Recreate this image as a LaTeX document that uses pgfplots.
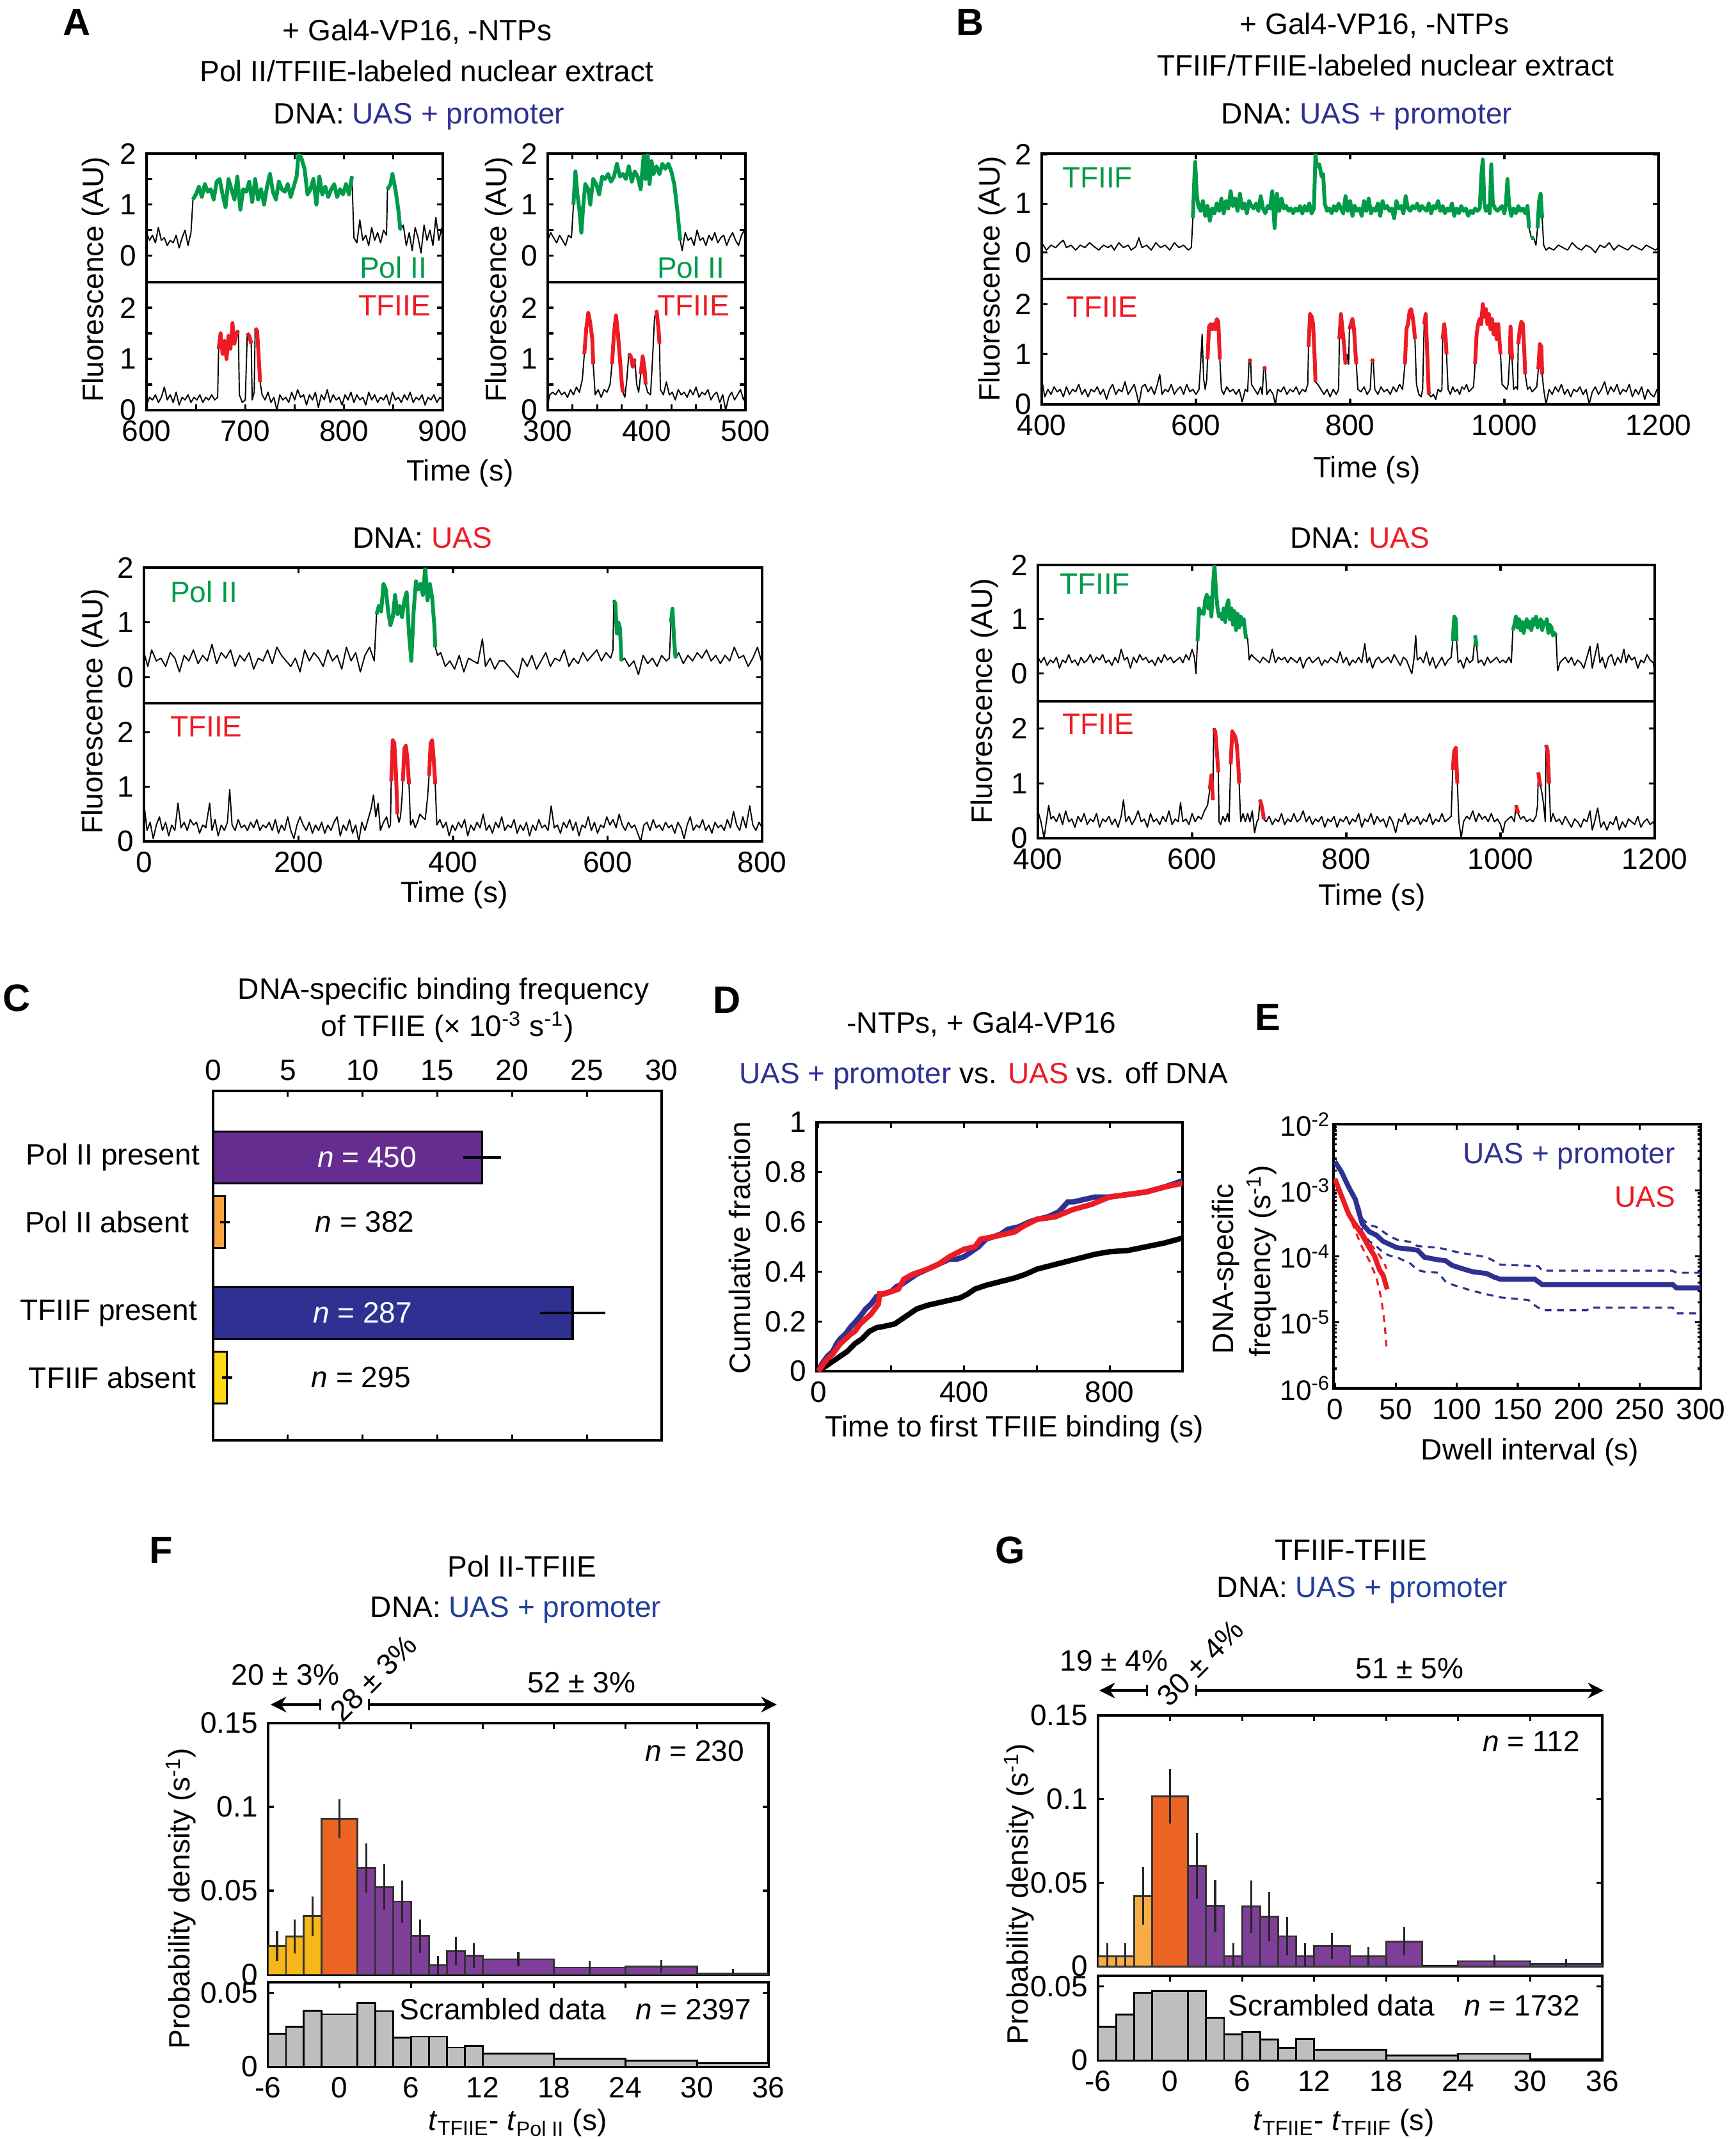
\documentclass[border=0pt]{standalone}
\usepackage{fontspec}
\setmainfont{Liberation Sans}
\usepackage{pgfplots}
\usepackage{pgfplotstable}
\pgfplotsset{compat=1.18}
\usetikzlibrary{arrows.meta}

\newcommand\fs{\fontsize{13.1}{15.5}\selectfont}
\newcommand\fsL{\fontsize{17}{20}\selectfont\bfseries}

\definecolor{tgreen}{RGB}{0,155,72}
\definecolor{tred}{RGB}{237,28,36}
\definecolor{tblue}{RGB}{46,49,146}
\definecolor{fblue}{RGB}{33,64,154}
\definecolor{cpurple}{RGB}{102,45,145}
\definecolor{corange}{RGB}{247,165,65}
\definecolor{cyellow}{RGB}{255,217,20}
\definecolor{fyellow}{RGB}{247,183,24}
\definecolor{gyellow}{RGB}{249,172,69}
\definecolor{forange}{RGB}{235,100,35}
\definecolor{fpurple}{RGB}{127,63,152}
\definecolor{fgray}{RGB}{190,190,190}

\pgfplotsset{
  mat/.style={scale only axis, anchor=south west,
    axis line style={line width=1pt},
    tick align=inside, tick style={black, line width=0.9pt},
    major tick length=0.09cm, minor tick length=0.09cm,
    scaled x ticks=false, scaled y ticks=false,
    /pgf/number format/assume math mode=true,
    /pgf/number format/1000 sep={},
    tick label style={font=\fs}},
  ttop/.style={mat, xticklabels={}, xtick pos=right},
  tbot/.style={mat, xtick pos=left},
  tk/.style={black, line width=0.55pt, line join=round},
  tg/.style={tgreen, line width=1.7pt, line join=round},
  tr/.style={tred, line width=1.7pt, line join=round},
  eb/.style={draw=none, mark=none, error bars/.cd, y dir=both, y explicit,
    error bar style={draw=black!85, line width=0.9pt},
    error mark options={draw=black!85, line width=0.9pt, mark size=1.3pt}},
}

% ---------- panel A, left trace (600-900 s)
\pgfplotstableread[row sep=\\]{x y\\
600 0.45\\603 0.3\\606 0.4\\609 0.25\\612 0.55\\615 0.3\\618 0.35\\621 0.2\\624 0.3\\627 0.25\\630 0.4\\633 0.15\\636 0.35\\639 0.5\\642 0.2\\645 0.45\\
647 1.1\\650 1.2\\653 1.35\\656 1.15\\659 1.4\\662 1.25\\665 1.3\\668 1.1\\671 1.45\\674 1.5\\677 1.2\\680 0.95\\683 1.5\\686 1.3\\689 1.1\\692 1.55\\695 0.9\\698 1.3\\
701 1.25\\704 1.45\\707 1.05\\710 1.5\\713 1.1\\716 1.3\\719 1.0\\722 1.35\\725 1.6\\728 1.25\\731 1.1\\734 1.45\\737 1.3\\740 1.25\\743 1.4\\746 1.15\\749 1.35\\752 1.55\\
754 2.0\\757 1.9\\760 1.7\\763 1.2\\766 1.3\\769 1.5\\772 1.0\\775 1.55\\778 1.2\\781 1.35\\784 1.15\\787 1.3\\790 1.4\\793 1.15\\796 1.3\\799 1.2\\802 1.4\\805 1.2\\808 1.55\\
810 0.35\\813 0.25\\816 0.7\\819 0.3\\822 0.4\\825 0.2\\828 0.55\\831 0.3\\834 0.45\\837 0.25\\840 0.5\\843 0.4\\844 1.3\\847 1.4\\849 1.6\\852 1.3\\855 0.9\\857 0.5\\
860 0.6\\863 0.2\\866 0.45\\869 0.1\\872 0.55\\875 0.35\\878 0.05\\881 0.6\\884 0.3\\887 0.5\\890 0.2\\893 0.75\\896 0.3\\899 0.55\\900 0.25\\}\tAaP

\pgfplotstableread[row sep=\\]{x y\\
600 0.1\\603 0.25\\606 0.2\\609 0.3\\612 0.15\\615 0.25\\618 0.45\\621 0.2\\624 0.3\\627 0.15\\630 0.35\\633 0.1\\636 0.25\\639 0.2\\642 0.3\\645 0.15\\648 0.25\\651 0.2\\
654 0.3\\657 0.15\\660 0.25\\663 0.2\\666 0.3\\669 0.2\\672 0.25\\673 1.2\\675 1.5\\677 1.1\\679 1.35\\681 1.0\\683 1.45\\685 1.2\\687 1.7\\689 1.3\\691 1.5\\693 1.55\\
694 0.3\\697 0.15\\700 0.2\\702 1.5\\704 1.45\\706 1.3\\707 0.2\\709 0.35\\710 1.6\\712 1.55\\714 0.9\\715 0.55\\717 0.3\\720 0.2\\723 0.35\\726 0.15\\729 0.25\\732 0.0\\
735 0.3\\738 0.2\\741 0.25\\744 0.15\\747 0.35\\750 0.2\\753 0.4\\756 0.25\\759 0.3\\762 0.1\\765 0.3\\768 0.2\\771 0.35\\774 0.05\\777 0.3\\780 0.2\\783 0.4\\786 0.15\\
789 0.3\\792 0.2\\795 0.25\\798 0.1\\801 0.3\\804 0.2\\807 0.35\\810 0.15\\813 0.3\\816 0.2\\819 0.25\\822 0.1\\825 0.35\\828 0.2\\831 0.3\\834 0.15\\837 0.25\\840 0.2\\
843 0.3\\846 0.1\\849 0.35\\852 0.2\\855 0.25\\858 0.15\\861 0.3\\864 0.2\\867 0.35\\870 0.15\\873 0.25\\876 0.2\\879 0.3\\882 0.1\\885 0.25\\888 0.2\\891 0.3\\894 0.15\\
897 0.25\\900 0.2\\}\tAaE

% ---------- panel A, right trace (300-500 s)
\pgfplotstableread[row sep=\\]{x y\\
300 0.3\\303 0.45\\306 0.35\\309 0.25\\312 0.4\\315 0.3\\318 0.2\\321 0.4\\324 0.35\\326 1.0\\328 1.65\\330 1.2\\332 0.9\\334 0.45\\336 1.0\\338 1.4\\341 1.3\\343 1.0\\
346 1.5\\349 1.4\\352 1.2\\355 1.55\\358 1.5\\361 1.6\\364 1.45\\367 1.55\\370 1.8\\373 1.55\\376 1.6\\379 1.5\\382 1.75\\385 1.45\\388 1.65\\391 1.55\\394 1.3\\397 1.95\\
399 1.5\\401 2.0\\403 1.4\\405 1.85\\407 1.6\\410 1.75\\413 1.6\\416 1.8\\419 1.7\\422 1.8\\425 1.65\\428 1.4\\431 0.9\\434 0.3\\436 0.1\\439 0.45\\442 0.3\\445 0.35\\
448 0.2\\451 0.5\\454 0.3\\457 0.35\\460 0.2\\463 0.4\\466 0.3\\469 0.45\\472 0.25\\475 0.35\\478 0.4\\481 0.2\\484 0.35\\487 0.45\\490 0.3\\493 0.2\\496 0.4\\499 0.5\\500 0.35\\}\tAbP

\pgfplotstableread[row sep=\\]{x y\\
300 0.1\\302 0.3\\305 0.35\\308 0.3\\311 0.4\\314 0.3\\317 0.35\\320 0.25\\323 0.4\\326 0.3\\329 0.45\\332 0.35\\335 0.6\\337 1.1\\339 1.6\\341 1.9\\343 1.7\\345 1.4\\
346 0.9\\348 0.3\\351 0.4\\354 0.25\\357 0.4\\360 0.35\\363 0.5\\365 0.9\\367 1.5\\369 1.85\\371 1.5\\373 1.0\\375 0.5\\376 0.35\\378 0.25\\380 0.6\\382 1.1\\384 1.05\\
386 0.85\\388 1.0\\390 0.5\\392 0.35\\394 0.7\\396 1.05\\398 0.8\\399 0.5\\401 0.35\\404 0.3\\406 1.0\\408 1.8\\410 1.95\\412 1.6\\413 1.3\\414 0.4\\417 0.3\\420 0.55\\
423 0.3\\426 0.35\\429 0.2\\432 0.4\\435 0.3\\438 0.35\\441 0.25\\444 0.4\\447 0.3\\450 0.45\\453 0.25\\456 0.35\\459 0.3\\462 0.4\\465 0.2\\468 0.3\\471 0.35\\474 0.15\\
477 0.3\\480 0.0\\483 0.25\\486 0.35\\489 0.2\\492 0.3\\495 0.4\\498 0.2\\500 0.3\\}\tAbE

% ---------- panel A, UAS trace (0-800 s)
\pgfplotstableread[row sep=\\]{x y\\
0 0.45\\5 0.2\\10 0.5\\16 0.3\\22 0.35\\28 0.2\\34 0.45\\40 0.35\\46 0.1\\52 0.4\\58 0.3\\64 0.5\\70 0.25\\76 0.4\\82 0.3\\88 0.6\\94 0.25\\100 0.45\\106 0.35\\112 0.5\\
118 0.2\\124 0.4\\130 0.3\\136 0.45\\142 0.15\\148 0.35\\154 0.3\\160 0.5\\166 0.25\\172 0.55\\178 0.4\\184 0.3\\190 0.2\\196 0.35\\202 0.1\\208 0.5\\214 0.3\\220 0.45\\
226 0.35\\232 0.2\\238 0.5\\244 0.3\\250 0.4\\256 0.15\\262 0.55\\268 0.3\\274 0.45\\280 0.1\\286 0.4\\292 0.55\\298 0.3\\301 1.15\\304 1.3\\307 1.2\\310 1.7\\313 1.6\\
316 1.2\\319 0.95\\322 1.1\\325 1.5\\328 1.15\\331 1.3\\334 1.1\\337 1.4\\340 1.55\\343 0.8\\346 0.3\\349 1.2\\352 1.75\\355 1.6\\358 1.7\\361 1.5\\364 2.0\\367 1.4\\
370 1.7\\373 1.45\\376 0.9\\377 0.55\\380 0.4\\384 0.45\\390 0.2\\396 0.3\\402 0.15\\408 0.4\\414 0.1\\420 0.35\\426 0.3\\432 0.25\\438 0.7\\442 0.2\\448 0.35\\454 0.15\\
460 0.3\\466 0.3\\472 0.2\\478 0.1\\484 0.0\\490 0.35\\496 0.2\\502 0.4\\508 0.15\\514 0.3\\520 0.45\\526 0.2\\532 0.35\\538 0.3\\544 0.5\\550 0.2\\556 0.35\\562 0.25\\
568 0.45\\574 0.3\\580 0.4\\586 0.5\\592 0.3\\598 0.45\\604 0.35\\607 0.5\\608 1.4\\610 1.35\\612 0.8\\614 1.0\\616 0.9\\618 0.3\\622 0.35\\628 0.2\\634 0.3\\640 0.05\\
646 0.4\\652 0.25\\658 0.35\\664 0.2\\670 0.4\\676 0.3\\680 0.35\\682 1.0\\684 1.25\\686 0.7\\688 0.35\\692 0.45\\698 0.25\\704 0.4\\710 0.3\\716 0.45\\722 0.35\\728 0.5\\
734 0.3\\740 0.4\\746 0.25\\752 0.4\\758 0.3\\764 0.55\\770 0.35\\776 0.4\\782 0.2\\788 0.35\\794 0.55\\800 0.25\\}\tAcP

\pgfplotstableread[row sep=\\]{x y\\
0 0.7\\4 0.2\\8 0.35\\12 0.05\\16 0.3\\20 0.45\\24 0.2\\28 0.35\\32 0.1\\36 0.3\\40 0.2\\44 0.7\\48 0.25\\52 0.35\\56 0.2\\60 0.4\\64 0.3\\68 0.35\\72 0.15\\76 0.3\\
80 0.25\\85 0.7\\88 0.2\\92 0.4\\96 0.1\\100 0.3\\104 0.2\\108 0.35\\111 0.95\\114 0.3\\118 0.2\\122 0.4\\126 0.25\\130 0.3\\134 0.2\\138 0.35\\142 0.25\\146 0.4\\150 0.2\\
154 0.3\\158 0.25\\162 0.35\\166 0.2\\170 0.4\\174 0.15\\178 0.3\\182 0.2\\186 0.45\\190 0.2\\194 0.05\\198 0.3\\202 0.45\\206 0.3\\210 0.2\\214 0.35\\218 0.15\\222 0.3\\
226 0.2\\230 0.35\\234 0.15\\238 0.3\\242 0.2\\246 0.35\\250 0.45\\254 0.1\\258 0.3\\262 0.2\\266 0.4\\270 0.15\\274 0.3\\278 0.0\\282 0.35\\286 0.2\\290 0.4\\294 0.6\\
297 0.85\\300 0.45\\303 0.7\\306 0.2\\310 0.35\\314 0.45\\317 0.25\\319 0.3\\320 1.1\\322 1.85\\324 1.8\\326 1.3\\328 0.5\\330 0.35\\332 0.45\\334 0.8\\335 1.1\\337 1.7\\
339 1.75\\341 1.5\\343 1.05\\345 0.3\\348 0.4\\351 0.25\\354 0.35\\357 0.5\\360 0.45\\364 0.4\\367 0.8\\369 1.2\\371 1.8\\373 1.85\\375 1.5\\377 1.05\\379 0.3\\383 0.4\\
387 0.25\\391 0.35\\395 0.1\\399 0.3\\403 0.2\\407 0.35\\411 0.25\\415 0.4\\419 0.1\\423 0.3\\427 0.2\\431 0.35\\435 0.25\\439 0.5\\443 0.2\\447 0.3\\451 0.15\\455 0.35\\
459 0.25\\463 0.45\\467 0.2\\471 0.3\\475 0.25\\479 0.4\\483 0.15\\487 0.3\\491 0.2\\495 0.35\\499 0.1\\503 0.3\\507 0.2\\511 0.4\\515 0.25\\519 0.3\\523 0.2\\527 0.65\\
531 0.25\\535 0.3\\539 0.15\\543 0.35\\547 0.25\\551 0.4\\555 0.2\\559 0.35\\563 0.1\\567 0.3\\571 0.25\\575 0.45\\579 0.2\\583 0.35\\587 0.15\\591 0.3\\595 0.25\\599 0.45\\
603 0.3\\607 0.4\\611 0.25\\615 0.5\\619 0.3\\623 0.2\\627 0.35\\631 0.25\\635 0.3\\639 0.15\\643 0.0\\647 0.3\\651 0.35\\655 0.2\\659 0.4\\663 0.25\\667 0.3\\671 0.2\\
675 0.35\\679 0.25\\683 0.3\\687 0.15\\691 0.35\\695 0.25\\699 0.05\\703 0.3\\707 0.45\\711 0.2\\715 0.3\\719 0.25\\723 0.4\\727 0.2\\731 0.3\\735 0.15\\739 0.35\\743 0.25\\
747 0.3\\751 0.2\\755 0.4\\759 0.25\\763 0.55\\767 0.3\\771 0.2\\775 0.45\\779 0.25\\784 0.65\\788 0.3\\792 0.2\\796 0.35\\800 0.25\\}\tAcE

% ---------- panel B, UAS + promoter trace (400-1200 s)
\pgfplotstableread[row sep=\\]{x y\\
400 0.2\\406 0.05\\412 0.15\\418 0.1\\424 0.2\\428 0.25\\432 0.1\\438 0.15\\444 0.05\\450 0.15\\456 0.1\\462 0.2\\468 0.12\\474 0.05\\480 0.15\\486 0.1\\490 0.15\\494 0.05\\
500 0.2\\506 0.1\\512 0.15\\516 0.05\\522 0.12\\526 0.3\\530 0.1\\536 0.15\\542 0.05\\548 0.2\\554 0.1\\560 0.15\\566 0.05\\572 0.2\\578 0.1\\584 0.15\\590 0.05\\594 0.1\\
596 0.7\\598 1.55\\599 1.85\\601 1.2\\603 0.95\\606 0.85\\609 1.05\\612 0.75\\615 0.95\\618 0.65\\621 0.9\\624 0.8\\627 1.0\\630 0.85\\633 1.1\\636 0.8\\639 1.05\\642 0.9\\
645 1.25\\648 0.95\\651 1.1\\654 0.85\\657 1.2\\660 0.9\\663 1.0\\666 0.8\\669 1.05\\672 0.95\\675 0.9\\678 1.0\\681 0.85\\684 1.15\\687 0.9\\690 0.8\\693 0.95\\696 0.9\\
699 1.25\\702 0.5\\705 1.2\\708 0.85\\711 1.1\\714 0.9\\717 0.95\\720 0.85\\723 0.9\\726 0.8\\729 0.9\\732 0.85\\735 0.95\\738 0.8\\741 0.95\\744 0.85\\747 1.0\\750 0.8\\
753 0.9\\755 2.0\\757 1.75\\760 1.8\\763 1.55\\765 1.6\\767 1.0\\770 0.85\\773 0.9\\776 0.8\\779 0.95\\782 0.85\\785 1.0\\788 0.9\\791 0.8\\794 1.15\\797 0.85\\800 1.05\\
803 0.75\\806 0.95\\809 0.85\\812 0.9\\815 0.75\\818 1.05\\821 0.85\\824 1.1\\827 0.8\\830 0.9\\833 0.85\\836 1.0\\839 0.75\\842 1.05\\845 0.9\\848 0.95\\851 0.85\\854 0.9\\
857 0.7\\860 1.05\\863 0.9\\866 0.95\\869 0.8\\872 1.15\\875 0.9\\878 0.85\\881 0.95\\884 0.9\\887 1.0\\890 0.85\\893 0.95\\896 0.9\\899 0.85\\902 1.0\\905 0.8\\908 0.95\\
911 0.9\\914 1.05\\917 0.85\\920 0.95\\923 0.8\\926 0.9\\929 0.85\\932 1.0\\935 0.75\\938 0.9\\941 0.8\\944 0.95\\947 0.85\\950 0.9\\953 0.75\\956 0.85\\959 0.8\\962 0.9\\
965 0.85\\968 0.9\\970 1.55\\972 1.9\\974 1.0\\976 0.85\\979 0.95\\981 0.8\\983 1.8\\985 1.0\\988 0.9\\991 0.85\\994 0.9\\997 0.95\\1000 0.8\\1002 1.0\\1004 1.5\\1006 1.0\\
1009 0.75\\1012 0.9\\1015 0.8\\1018 0.95\\1021 0.85\\1024 0.9\\1027 0.8\\1030 0.95\\1032 0.5\\1035 0.3\\1038 0.3\\1041 0.15\\1043 0.5\\1045 1.05\\1047 1.2\\1049 0.7\\
1051 0.15\\1054 0.05\\1058 0.1\\1064 0.05\\1070 0.15\\1076 0.1\\1082 0.05\\1088 0.2\\1094 0.1\\1100 0.05\\1106 0.15\\1112 0.1\\1118 0.0\\1124 0.15\\1130 0.1\\1136 0.2\\
1142 0.05\\1148 0.15\\1154 0.1\\1160 0.05\\1166 0.15\\1172 0.1\\1178 0.05\\1184 0.15\\1190 0.1\\1196 0.05\\1200 0.1\\}\tBaF

\pgfplotstableread[row sep=\\]{x y\\
400 0.5\\404 0.15\\408 0.3\\412 0.2\\416 0.35\\420 0.25\\424 0.3\\428 0.15\\432 0.35\\436 0.2\\440 0.3\\444 0.25\\448 0.4\\452 0.2\\456 0.3\\460 0.15\\464 0.3\\468 0.25\\
472 0.35\\476 0.2\\480 0.3\\484 0.1\\488 0.3\\492 0.4\\496 0.2\\500 0.3\\504 0.25\\508 0.45\\512 0.2\\516 0.3\\520 0.4\\524 0.15\\526 0.0\\530 0.35\\534 0.4\\538 0.25\\
542 0.35\\546 0.2\\550 0.4\\553 0.6\\556 0.2\\560 0.3\\564 0.25\\568 0.4\\572 0.2\\576 0.3\\580 0.35\\584 0.2\\588 0.4\\592 0.25\\596 0.3\\600 0.2\\604 0.3\\606 0.8\\
608 1.4\\610 0.5\\612 0.3\\614 0.5\\615 0.9\\617 1.55\\619 1.6\\621 1.5\\623 1.6\\625 1.5\\627 1.7\\629 1.65\\631 0.9\\633 0.3\\636 0.2\\640 0.35\\644 0.25\\648 0.3\\
652 0.2\\656 0.3\\660 0.05\\664 0.3\\667 0.25\\669 0.9\\671 0.85\\672 0.4\\676 0.3\\680 0.2\\684 0.35\\686 0.2\\688 0.75\\690 0.7\\692 0.2\\696 0.3\\700 0.2\\703 0.0\\
706 0.3\\710 0.25\\714 0.35\\718 0.2\\722 0.3\\726 0.25\\730 0.35\\734 0.2\\738 0.3\\742 0.25\\745 0.4\\746 1.15\\748 1.8\\750 1.75\\752 1.6\\754 0.9\\755 0.45\\758 0.4\\
762 0.3\\766 0.2\\770 0.3\\774 0.15\\778 0.3\\782 0.2\\785 0.3\\786 1.3\\788 1.8\\790 1.5\\792 1.2\\794 0.8\\796 1.0\\798 0.8\\799 1.5\\801 1.6\\803 1.7\\805 1.5\\
807 1.0\\808 0.8\\810 0.3\\814 0.25\\818 0.35\\822 0.2\\826 0.3\\828 0.9\\830 0.85\\832 0.3\\836 0.2\\840 0.35\\844 0.25\\848 0.3\\852 0.2\\856 0.35\\860 0.25\\864 0.4\\
868 0.3\\871 0.8\\873 1.5\\875 1.6\\877 1.85\\879 1.9\\881 1.75\\883 1.5\\884 1.3\\886 0.4\\889 0.2\\892 0.15\\894 0.3\\896 1.6\\898 1.8\\900 1.0\\902 0.2\\905 0.15\\
908 0.2\\911 0.1\\914 0.3\\917 0.25\\919 0.3\\920 1.3\\922 1.6\\924 1.3\\925 1.0\\927 0.3\\930 0.2\\933 0.35\\936 0.25\\939 0.3\\942 0.2\\945 0.35\\948 0.3\\951 0.4\\
954 0.25\\957 0.3\\960 0.35\\962 0.8\\964 1.4\\966 1.6\\968 1.7\\970 1.6\\972 2.0\\974 1.75\\976 1.9\\978 1.6\\980 1.8\\982 1.5\\984 1.7\\986 1.4\\988 1.6\\990 1.3\\
992 1.6\\994 1.2\\995 1.0\\997 0.4\\1000 0.35\\1003 0.3\\1005 0.4\\1007 1.0\\1008 1.55\\1010 0.9\\1012 0.3\\1015 0.35\\1017 0.3\\1018 1.2\\1020 1.5\\1022 1.65\\1024 1.6\\
1026 1.0\\1027 0.6\\1030 0.3\\1033 0.35\\1036 0.25\\1039 0.3\\1042 0.35\\1044 0.7\\1046 1.2\\1048 1.15\\1049 0.6\\1051 0.3\\1054 0.0\\1058 0.3\\1062 0.2\\1066 0.35\\
1070 0.25\\1074 0.4\\1078 0.2\\1082 0.3\\1086 0.15\\1090 0.3\\1094 0.25\\1098 0.35\\1102 0.2\\1106 0.3\\1110 0.0\\1114 0.25\\1118 0.35\\1122 0.2\\1126 0.3\\1130 0.45\\
1134 0.2\\1138 0.35\\1142 0.25\\1146 0.4\\1150 0.2\\1154 0.3\\1158 0.25\\1162 0.4\\1166 0.15\\1170 0.3\\1174 0.2\\1178 0.35\\1182 0.1\\1186 0.3\\1190 0.2\\1194 0.15\\
1198 0.3\\1200 0.25\\}\tBaE

% ---------- panel B, UAS trace (400-1200 s)
\pgfplotstableread[row sep=\\]{x y\\
400 0.3\\404 0.2\\408 0.3\\412 0.15\\416 0.25\\420 0.2\\424 0.3\\428 0.1\\432 0.25\\436 0.2\\440 0.35\\444 0.2\\448 0.25\\452 0.15\\456 0.3\\460 0.2\\464 0.25\\468 0.35\\
472 0.2\\476 0.3\\480 0.25\\484 0.35\\488 0.2\\492 0.25\\496 0.15\\500 0.3\\504 0.2\\508 0.45\\512 0.25\\516 0.3\\520 0.1\\524 0.3\\528 0.2\\532 0.35\\536 0.25\\540 0.3\\
544 0.2\\548 0.25\\552 0.15\\556 0.3\\560 0.2\\564 0.35\\568 0.25\\572 0.3\\576 0.2\\580 0.25\\584 0.3\\588 0.2\\592 0.35\\596 0.25\\600 0.45\\603 0.3\\605 0.0\\607 0.6\\
609 1.2\\611 1.1\\613 1.15\\615 1.1\\617 1.35\\619 1.45\\621 1.2\\623 1.4\\625 1.05\\627 1.6\\629 2.0\\631 1.5\\633 1.2\\635 1.05\\637 1.1\\639 1.0\\641 1.2\\643 0.95\\
645 1.25\\647 1.35\\649 1.0\\651 1.2\\653 0.9\\655 1.15\\657 0.8\\659 1.1\\661 0.85\\663 1.05\\665 0.9\\667 1.0\\669 0.75\\670 0.65\\672 0.65\\674 0.25\\677 0.35\\680 0.3\\
684 0.25\\688 0.2\\692 0.3\\696 0.25\\700 0.2\\704 0.45\\708 0.2\\712 0.3\\716 0.25\\720 0.3\\724 0.2\\728 0.3\\732 0.25\\736 0.2\\740 0.3\\744 0.1\\748 0.25\\752 0.3\\
756 0.2\\760 0.25\\764 0.3\\768 0.15\\772 0.25\\776 0.2\\780 0.3\\784 0.25\\788 0.2\\792 0.4\\796 0.2\\800 0.3\\804 0.15\\808 0.25\\812 0.2\\816 0.3\\820 0.2\\824 0.55\\
827 0.2\\830 0.3\\834 0.1\\838 0.25\\842 0.3\\846 0.2\\850 0.25\\854 0.3\\858 0.2\\862 0.35\\866 0.25\\870 0.15\\874 0.3\\878 0.25\\882 0.1\\885 0.0\\888 0.3\\890 0.7\\
892 0.25\\896 0.3\\900 0.2\\904 0.4\\908 0.15\\912 0.3\\916 0.1\\920 0.2\\924 0.3\\928 0.15\\932 0.25\\936 0.3\\938 0.6\\940 1.05\\942 1.0\\943 0.6\\945 0.2\\948 0.25\\
952 0.1\\956 0.3\\960 0.2\\964 0.25\\967 0.7\\969 0.5\\971 0.2\\975 0.25\\979 0.15\\983 0.3\\987 0.2\\991 0.25\\995 0.3\\999 0.2\\1003 0.25\\1007 0.2\\1011 0.3\\1014 0.2\\
1016 0.8\\1018 0.9\\1020 1.05\\1022 0.85\\1024 1.0\\1026 0.8\\1028 0.95\\1030 0.75\\1032 0.9\\1034 1.0\\1036 0.85\\1038 0.95\\1040 0.8\\1042 1.0\\1044 0.9\\1046 1.05\\
1048 0.85\\1050 0.95\\1052 1.0\\1054 0.8\\1056 0.95\\1058 0.9\\1060 1.0\\1062 0.75\\1064 0.9\\1066 0.85\\1068 0.7\\1070 0.75\\1072 0.7\\1074 0.05\\1077 0.2\\1080 0.25\\
1084 0.3\\1088 0.2\\1092 0.3\\1096 0.15\\1100 0.25\\1104 0.2\\1108 0.1\\1112 0.3\\1116 0.5\\1119 0.1\\1122 0.3\\1126 0.55\\1129 0.2\\1132 0.3\\1136 0.1\\1140 0.3\\
1144 0.35\\1148 0.15\\1152 0.3\\1156 0.2\\1160 0.45\\1163 0.2\\1166 0.35\\1170 0.25\\1174 0.3\\1178 0.1\\1182 0.25\\1186 0.2\\1190 0.35\\1194 0.25\\1198 0.2\\1200 0.05\\}\tBbF

\pgfplotstableread[row sep=\\]{x y\\
400 0.5\\404 0.3\\408 0.0\\411 0.3\\414 0.6\\417 0.35\\420 0.4\\424 0.3\\428 0.45\\432 0.25\\436 0.5\\440 0.3\\444 0.35\\448 0.2\\452 0.4\\456 0.3\\460 0.45\\464 0.25\\
468 0.35\\472 0.3\\476 0.45\\480 0.2\\484 0.35\\488 0.3\\492 0.4\\496 0.25\\500 0.35\\504 0.2\\508 0.4\\511 0.7\\514 0.3\\518 0.4\\522 0.25\\526 0.35\\530 0.5\\534 0.3\\
538 0.35\\542 0.2\\546 0.45\\550 0.3\\554 0.35\\558 0.25\\562 0.4\\566 0.3\\570 0.5\\574 0.25\\578 0.35\\582 0.3\\585 0.65\\588 0.3\\592 0.35\\596 0.25\\600 0.45\\604 0.3\\
608 0.4\\612 0.35\\616 0.5\\620 0.6\\623 0.9\\625 1.15\\627 0.7\\628 2.0\\630 1.95\\632 1.6\\634 1.2\\635 0.3\\637 0.25\\640 0.4\\643 0.3\\646 0.45\\648 0.3\\650 1.35\\
652 1.95\\654 1.9\\656 1.85\\658 1.7\\660 1.3\\661 1.0\\663 0.3\\666 0.45\\669 0.3\\672 0.45\\675 0.3\\678 0.5\\681 0.1\\684 0.3\\686 0.35\\688 0.7\\690 0.6\\692 0.45\\
693 0.35\\696 0.3\\700 0.4\\704 0.25\\708 0.35\\712 0.3\\716 0.45\\720 0.25\\724 0.35\\728 0.3\\732 0.45\\736 0.3\\740 0.35\\744 0.5\\748 0.3\\752 0.4\\756 0.25\\760 0.35\\
764 0.3\\768 0.4\\772 0.2\\776 0.35\\780 0.3\\784 0.4\\788 0.2\\792 0.35\\796 0.3\\800 0.4\\804 0.25\\808 0.35\\812 0.3\\816 0.45\\820 0.2\\824 0.35\\828 0.3\\832 0.45\\
836 0.25\\840 0.4\\844 0.3\\848 0.35\\852 0.2\\856 0.4\\860 0.3\\864 0.1\\868 0.35\\872 0.3\\876 0.45\\880 0.25\\884 0.35\\888 0.3\\892 0.4\\896 0.25\\900 0.35\\904 0.3\\
908 0.45\\912 0.25\\916 0.35\\920 0.3\\924 0.45\\928 0.3\\932 0.35\\936 0.4\\938 1.25\\940 1.6\\942 1.65\\944 1.0\\946 0.3\\949 0.0\\952 0.3\\956 0.4\\960 0.35\\964 0.5\\
968 0.3\\972 0.45\\976 0.35\\980 0.4\\984 0.3\\988 0.45\\992 0.3\\996 0.35\\1000 0.25\\1003 0.1\\1006 0.3\\1010 0.35\\1014 0.4\\1018 0.3\\1020 0.6\\1022 0.5\\1023 0.45\\
1026 0.35\\1030 0.4\\1034 0.3\\1038 0.35\\1042 0.3\\1046 0.4\\1048 0.6\\1049 1.2\\1051 1.0\\1052 0.95\\1054 0.8\\1056 0.6\\1058 0.3\\1059 1.7\\1061 1.6\\1063 1.0\\
1065 0.3\\1068 0.45\\1072 0.3\\1076 0.35\\1080 0.25\\1084 0.4\\1088 0.3\\1092 0.2\\1096 0.35\\1100 0.3\\1104 0.2\\1108 0.35\\1112 0.3\\1116 0.5\\1119 0.15\\1122 0.3\\
1126 0.55\\1130 0.2\\1134 0.3\\1138 0.15\\1142 0.3\\1146 0.25\\1150 0.4\\1154 0.15\\1158 0.3\\1162 0.2\\1166 0.35\\1170 0.3\\1174 0.25\\1178 0.4\\1182 0.2\\1186 0.3\\
1190 0.35\\1194 0.25\\1198 0.3\\1200 0.2\\}\tBbE

\begin{document}
\fs
\begin{tikzpicture}
\path[use as bounding box] (0,0) rectangle (27.12,-33.43);

% ===================== A =====================
\node[font=\fsL] at (1.20,-0.35) {A};
\node at (6.52,-0.50) {+ Gal4-VP16, -NTPs};
\node at (6.67,-1.11) {Pol II/TFIIE-labeled nuclear extract};
\node at (6.55,-1.82) {DNA: \textcolor{tblue}{UAS + promoter}};

\begin{axis}[ttop, at={(2.29cm,-4.41cm)}, width=4.63cm, height=2.01cm,
  xmin=600, xmax=900, ymin=-0.52, ymax=2,
  xtick={600,700,800,900}, minor xtick={650,750,850},
  ytick={0,1,2}, minor ytick={0.5,1.5}]
\addplot[tk] table {\tAaP};
\addplot[tg, restrict x to domain=647:808] table {\tAaP};
\addplot[tg, restrict x to domain=844:857] table {\tAaP};
\end{axis}
\begin{axis}[tbot, at={(2.29cm,-6.41cm)}, width=4.63cm, height=2.00cm,
  xmin=600, xmax=900, ymin=0, ymax=2.5,
  xtick={600,700,800,900}, minor xtick={650,750,850},
  ytick={0,1,2}, minor ytick={0.5,1.5}]
\addplot[tk] table {\tAaE};
\addplot[tr, restrict x to domain=673:693] table {\tAaE};
\addplot[tr, restrict x to domain=702:706] table {\tAaE};
\addplot[tr, restrict x to domain=710:715] table {\tAaE};
\end{axis}

\begin{axis}[ttop, at={(8.56cm,-4.41cm)}, width=3.09cm, height=2.01cm,
  xmin=300, xmax=500, ymin=-0.52, ymax=2,
  xtick={300,400,500}, minor xtick={325,350,375,425,450,475},
  ytick={0,1,2}, minor ytick={0.5,1.5}]
\addplot[tk] table {\tAbP};
\addplot[tg, restrict x to domain=326:434] table {\tAbP};
\end{axis}
\begin{axis}[tbot, at={(8.56cm,-6.41cm)}, width=3.09cm, height=2.00cm,
  xmin=300, xmax=500, ymin=0, ymax=2.5,
  xtick={300,400,500}, minor xtick={325,350,375,425,450,475},
  ytick={0,1,2}, minor ytick={0.5,1.5}]
\addplot[tk] table {\tAbE};
\addplot[tr, restrict x to domain=337:346] table {\tAbE};
\addplot[tr, restrict x to domain=365:376] table {\tAbE};
\addplot[tr, restrict x to domain=382:388] table {\tAbE};
\addplot[tr, restrict x to domain=394:399] table {\tAbE};
\addplot[tr, restrict x to domain=409:413] table {\tAbE};
\end{axis}

\node[anchor=east, text=tgreen] at (6.83,-4.18) {Pol II};
\node[anchor=east, text=tred] at (6.89,-4.78) {TFIIE};
\node[anchor=east, text=tgreen] at (11.48,-4.18) {Pol II};
\node[anchor=east, text=tred] at (11.56,-4.78) {TFIIE};
\node[rotate=90] at (1.50,-4.37) {Fluorescence (AU)};
\node[rotate=90] at (7.80,-4.37) {Fluorescence (AU)};
\node at (7.19,-7.40) {Time (s)};

% A, UAS
\node at (6.60,-8.41) {DNA: \textcolor{tred}{UAS}};
\begin{axis}[ttop, at={(2.25cm,-10.99cm)}, width=9.66cm, height=2.12cm,
  xmin=0, xmax=800, ymin=-0.47, ymax=2,
  xtick={0,200,...,800}, ytick={0,1,2}]
\addplot[tk] table {\tAcP};
\addplot[tg, restrict x to domain=301:377] table {\tAcP};
\addplot[tg, restrict x to domain=608:618] table {\tAcP};
\addplot[tg, restrict x to domain=682:688] table {\tAcP};
\end{axis}
\begin{axis}[tbot, at={(2.25cm,-13.15cm)}, width=9.66cm, height=2.16cm,
  xmin=0, xmax=800, ymin=0, ymax=2.53,
  xtick={0,200,...,800}, ytick={0,1,2}]
\addplot[tk] table {\tAcE};
\addplot[tr, restrict x to domain=320:328] table {\tAcE};
\addplot[tr, restrict x to domain=335:343] table {\tAcE};
\addplot[tr, restrict x to domain=369:377] table {\tAcE};
\end{axis}
\node[anchor=west, text=tgreen] at (2.50,-9.25) {Pol II};
\node[anchor=west, text=tred] at (2.50,-11.36) {TFIIE};
\node[rotate=90] at (1.49,-11.12) {Fluorescence (AU)};
\node at (7.10,-13.99) {Time (s)};

% ===================== B =====================
\node[font=\fsL] at (15.16,-0.35) {B};
\node at (21.48,-0.40) {+ Gal4-VP16, -NTPs};
\node at (21.65,-1.02) {TFIIF/TFIIE-labeled nuclear extract};
\node at (21.36,-1.82) {DNA: \textcolor{tblue}{UAS + promoter}};

\begin{axis}[ttop, at={(16.28cm,-4.36cm)}, width=9.64cm, height=1.96cm,
  xmin=400, xmax=1200, ymin=-0.54, ymax=2.02,
  xtick={400,600,...,1200}, ytick={0,1,2}]
\addplot[tk] table {\tBaF};
\addplot[tg, restrict x to domain=596:1032] table {\tBaF};
\addplot[tg, restrict x to domain=1035:1038] table {\tBaF};
\addplot[tg, restrict x to domain=1043:1049] table {\tBaF};
\end{axis}
\begin{axis}[tbot, at={(16.28cm,-6.32cm)}, width=9.64cm, height=1.96cm,
  xmin=400, xmax=1200, ymin=0, ymax=2.5,
  xtick={400,600,...,1200}, ytick={0,1,2}]
\addplot[tk] table {\tBaE};
\addplot[tr, restrict x to domain=615:631] table {\tBaE};
\addplot[tr, restrict x to domain=669:671] table {\tBaE};
\addplot[tr, restrict x to domain=688:690] table {\tBaE};
\addplot[tr, restrict x to domain=746:755] table {\tBaE};
\addplot[tr, restrict x to domain=786:794] table {\tBaE};
\addplot[tr, restrict x to domain=799:808] table {\tBaE};
\addplot[tr, restrict x to domain=828:830] table {\tBaE};
\addplot[tr, restrict x to domain=871:884] table {\tBaE};
\addplot[tr, restrict x to domain=896:902] table {\tBaE};
\addplot[tr, restrict x to domain=920:925] table {\tBaE};
\addplot[tr, restrict x to domain=962:995] table {\tBaE};
\addplot[tr, restrict x to domain=1007:1010] table {\tBaE};
\addplot[tr, restrict x to domain=1018:1027] table {\tBaE};
\addplot[tr, restrict x to domain=1044:1049] table {\tBaE};
\end{axis}
\node[anchor=west, text=tgreen] at (16.44,-2.78) {TFIIF};
\node[anchor=west, text=tred] at (16.50,-4.80) {TFIIE};
\node[rotate=90] at (15.51,-4.36) {Fluorescence (AU)};
\node at (21.36,-7.35) {Time (s)};

% B, UAS
\node at (21.25,-8.41) {DNA: \textcolor{tred}{UAS}};
\begin{axis}[ttop, at={(16.22cm,-10.96cm)}, width=9.64cm, height=2.13cm,
  xmin=400, xmax=1200, ymin=-0.51, ymax=2,
  xtick={400,600,...,1200}, ytick={0,1,2}]
\addplot[tk] table {\tBbF};
\addplot[tg, restrict x to domain=607:670] table {\tBbF};
\addplot[tg, restrict x to domain=938:943] table {\tBbF};
\addplot[tg, restrict x to domain=967:969] table {\tBbF};
\addplot[tg, restrict x to domain=1016:1072] table {\tBbF};
\end{axis}
\begin{axis}[tbot, at={(16.22cm,-13.10cm)}, width=9.64cm, height=2.14cm,
  xmin=400, xmax=1200, ymin=0, ymax=2.5,
  xtick={400,600,...,1200}, ytick={0,1,2}]
\addplot[tk] table {\tBbE};
\addplot[tr, restrict x to domain=623:627] table {\tBbE};
\addplot[tr, restrict x to domain=628:634] table {\tBbE};
\addplot[tr, restrict x to domain=650:661] table {\tBbE};
\addplot[tr, restrict x to domain=688:693] table {\tBbE};
\addplot[tr, restrict x to domain=938:944] table {\tBbE};
\addplot[tr, restrict x to domain=1020:1023] table {\tBbE};
\addplot[tr, restrict x to domain=1049:1052] table {\tBbE};
\addplot[tr, restrict x to domain=1059:1063] table {\tBbE};
\end{axis}
\node[anchor=west, text=tgreen] at (16.40,-9.13) {TFIIF};
\node[anchor=west, text=tred] at (16.44,-11.32) {TFIIE};
\node[rotate=90] at (15.39,-10.96) {Fluorescence (AU)};
\node at (21.44,-14.03) {Time (s)};

% ===================== C =====================
\node[font=\fsL] at (0.26,-15.60) {C};
\node at (6.93,-15.50) {DNA-specific binding frequency};
\node at (6.99,-16.05) {of TFIIE (× 10\textsuperscript{-3} s\textsuperscript{-1})};
\begin{axis}[mat, at={(3.33cm,-22.51cm)}, width=7.01cm, height=5.46cm,
  xmin=0, xmax=30, xtick={0,5,...,30}, xticklabel pos=right,
  ymin=-0.03, ymax=5.376, y dir=reverse,
  ytick={1,2,3.406,4.406},
  yticklabels={Pol II present, Pol II absent\hspace*{0.17cm}, TFIIF present\hspace*{0.04cm}, TFIIF absent\hspace*{0.06cm}},
  ytick style={draw=none}, yticklabel style={font=\fs, xshift=-0.05cm}]
\addplot[xbar, bar shift=0pt, bar width=0.8, fill=cpurple, draw=black, line width=0.9pt,
  error bars/.cd, x dir=both, x explicit, error bar style={line width=0.9pt, black},
  error mark options={line width=0.9pt, mark size=1.3pt}]
  coordinates {(18.0,1) +- (1.05,0)};
\addplot[xbar, bar shift=0pt, bar width=0.8, fill=corange, draw=black, line width=0.9pt,
  error bars/.cd, x dir=both, x explicit, error bar style={line width=0.9pt, black},
  error mark options={line width=0.9pt, mark size=1.3pt}]
  coordinates {(0.78,2) +- (0.12,0)};
\addplot[xbar, bar shift=0pt, bar width=0.8, fill=tblue, draw=black, line width=0.9pt,
  error bars/.cd, x dir=both, x explicit, error bar style={line width=0.9pt, black},
  error mark options={line width=0.9pt, mark size=1.3pt}]
  coordinates {(24.05,3.406) +- (2.0,0)};
\addplot[xbar, bar shift=0pt, bar width=0.8, fill=cyellow, draw=black, line width=0.9pt,
  error bars/.cd, x dir=both, x explicit, error bar style={line width=0.9pt, black},
  error mark options={line width=0.9pt, mark size=1.3pt}]
  coordinates {(0.93,4.406) +- (0.15,0)};
\node[text=white] at (axis cs:10.3,1) {\textit{n} = 450};
\node at (axis cs:10.15,2) {\textit{n} = 382};
\node[text=white] at (axis cs:10.0,3.406) {\textit{n} = 287};
\node at (axis cs:9.9,4.406) {\textit{n} = 295};
\end{axis}

% ===================== D =====================
\node[font=\fsL] at (11.36,-15.63) {D};
\node at (15.34,-16.01) {-NTPs, + Gal4-VP16};
\node at (15.37,-16.82) {\textcolor{tblue}{UAS + promoter} vs. \textcolor{tred}{UAS} vs. off DNA};
\begin{axis}[mat, at={(12.76cm,-21.43cm)}, width=5.72cm, height=3.89cm,
  xmin=-5, xmax=1000, ymin=0, ymax=1,
  xtick={0,200,...,1000}, xticklabels={0,,400,,800,},
  ytick={0,0.2,...,1}, yticklabels={0,0.2,0.4,0.6,0.8,1}]
\addplot[black, line width=2.4pt] coordinates {(0,0) (20,0.02) (40,0.04) (60,0.06) (80,0.08) (100,0.11) (120,0.13) (140,0.16) (160,0.175) (180,0.18) (210,0.19) (240,0.22) (270,0.25) (300,0.265) (330,0.275) (360,0.285) (390,0.295) (410,0.31) (430,0.33) (460,0.345) (500,0.36) (540,0.375) (570,0.39) (600,0.41) (640,0.425) (680,0.44) (720,0.455) (760,0.47) (800,0.48) (850,0.485) (900,0.50) (950,0.515) (1000,0.535)};
\addplot[tblue, line width=2.4pt] coordinates {(0,0) (10,0.03) (25,0.06) (40,0.08) (50,0.11) (60,0.13) (75,0.15) (90,0.18) (100,0.195) (115,0.22) (130,0.25) (145,0.27) (160,0.30) (175,0.31) (200,0.32) (215,0.34) (230,0.35) (250,0.37) (270,0.39) (300,0.41) (330,0.43) (360,0.45) (380,0.45) (400,0.46) (420,0.48) (440,0.50) (460,0.53) (480,0.54) (500,0.55) (520,0.57) (550,0.58) (580,0.60) (600,0.61) (630,0.62) (660,0.64) (685,0.68) (700,0.68) (730,0.69) (760,0.70) (800,0.70) (850,0.71) (900,0.72) (950,0.74) (1000,0.765)};
\addplot[tred, line width=2.4pt] coordinates {(0,0) (10,0.02) (25,0.05) (40,0.07) (50,0.09) (60,0.11) (75,0.13) (90,0.15) (100,0.16) (115,0.19) (130,0.21) (145,0.23) (155,0.25) (165,0.27) (168,0.31) (180,0.31) (200,0.32) (220,0.33) (235,0.37) (260,0.39) (300,0.41) (330,0.43) (360,0.46) (400,0.49) (430,0.50) (445,0.53) (480,0.54) (510,0.55) (540,0.56) (560,0.58) (600,0.61) (650,0.62) (700,0.65) (750,0.67) (800,0.70) (850,0.71) (900,0.72) (950,0.74) (1000,0.755)};
\end{axis}
\node[rotate=90] at (11.56,-19.50) {Cumulative fraction};
\node at (15.85,-22.34) {Time to first TFIIE binding (s)};

% ===================== E =====================
\node[font=\fsL] at (19.81,-15.90) {E};
\begin{axis}[mat, at={(20.84cm,-21.70cm)}, width=5.74cm, height=4.13cm,
  xmin=-1, xmax=300, xtick={0,50,...,300},
  ymode=log, ymin=1e-6, ymax=1e-2,
  ytick={1e-6,1e-5,1e-4,1e-3,1e-2},
  yticklabels={10\textsuperscript{-6},10\textsuperscript{-5},10\textsuperscript{-4},10\textsuperscript{-3},10\textsuperscript{-2}},
  yticklabel style={font=\fontsize{12.6}{14}\selectfont, xshift=0.11cm},
  minor ytick={2e-6,3e-6,4e-6,5e-6,6e-6,7e-6,8e-6,9e-6,2e-5,3e-5,4e-5,5e-5,6e-5,7e-5,8e-5,9e-5,2e-4,3e-4,4e-4,5e-4,6e-4,7e-4,8e-4,9e-4,2e-3,3e-3,4e-3,5e-3,6e-3,7e-3,8e-3,9e-3},
  minor tick length=0.05cm]
\addplot[tblue, line width=0.9pt, dash pattern=on 3pt off 2.5pt] coordinates {(19.8,5.8e-4) (22.6,3.7e-4) (28.3,2.96e-4) (34,2.8e-4) (39.6,2.37e-4) (45.3,2.0e-4) (51,1.79e-4) (62.3,1.65e-4) (67.9,1.43e-4) (84.9,1.35e-4) (90.5,1.28e-4) (101.9,1.14e-4) (113,1.06e-4) (124.5,9.7e-5) (130,8.6e-5) (135.8,7.5e-5) (167,7.1e-5) (170,6.05e-5) (277,6.05e-5) (280,5.65e-5) (300,5.65e-5)};
\addplot[tblue, line width=0.9pt, dash pattern=on 3pt off 2.5pt] coordinates {(19.8,4.1e-4) (22.6,2.37e-4) (28.3,1.69e-4) (34,1.43e-4) (39.6,1.14e-4) (45.3,1.02e-4) (51,9.7e-5) (62.3,7.7e-5) (67.9,6.2e-5) (73.6,5.85e-5) (84.9,5.65e-5) (90.5,4.2e-5) (96.2,3.74e-5) (104.7,3.34e-5) (113,3.0e-5) (124.5,2.67e-5) (135.8,2.39e-5) (158.5,2.19e-5) (164,1.81e-5) (170,1.53e-5) (206.6,1.53e-5) (209.4,1.67e-5) (277,1.67e-5) (280,1.37e-5) (300,1.37e-5)};
\addplot[tblue, line width=2.2pt] coordinates {(0,2.75e-3) (5.7,1.87e-3) (11.3,1.13e-3) (17,7.2e-4) (19.8,4.6e-4) (22.6,3.1e-4) (28.3,2.36e-4) (34,2.1e-4) (39.6,1.69e-4) (45.3,1.51e-4) (51,1.35e-4) (62.3,1.28e-4) (67.9,1.24e-4) (73.6,9.7e-5) (84.9,8.85e-5) (90.5,8.65e-5) (96.2,7.3e-5) (104.7,6.5e-5) (113,5.85e-5) (124.5,5.5e-5) (130,4.9e-5) (135.8,4.5e-5) (164,4.5e-5) (170,3.74e-5) (277,3.74e-5) (280,3.34e-5) (300,3.34e-5)};
\addplot[tred, line width=0.9pt, dash pattern=on 3pt off 2.5pt] coordinates {(11.3,4.4e-4) (17,3.3e-4) (22.6,2.37e-4) (28.3,1.6e-4) (34,1.21e-4) (39.6,8.6e-5) (42.4,6.5e-5)};
\addplot[tred, line width=0.9pt, dash pattern=on 3pt off 2.5pt] coordinates {(14.1,3.3e-4) (17,2.37e-4) (22.6,1.35e-4) (28.3,8.6e-5) (34,4.9e-5) (38.2,2.26e-5) (41,9.2e-6) (42.4,4.2e-6)};
\addplot[tred, line width=2.2pt] coordinates {(0,1.5e-3) (5.7,8.1e-4) (11.3,4.4e-4) (17,2.96e-4) (22.6,2.1e-4) (28.3,1.35e-4) (32.5,1.02e-4) (36.8,6.2e-5) (39.6,5.2e-5) (43,3.16e-5)};
\end{axis}
\node[anchor=east, text=tblue] at (26.34,-18.07) {UAS + promoter};
\node[anchor=east, text=tred] at (26.34,-18.71) {UAS};
\node[rotate=90] at (19.16,-19.83) {DNA-specific};
\node[rotate=90] at (19.72,-19.71) {frequency (s\textsuperscript{-1})};
\node at (23.91,-22.70) {Dwell interval (s)};

% ===================== F =====================
\node[font=\fsL] at (2.52,-24.23) {F};
\node at (8.16,-24.48) {Pol II-TFIIE};
\node at (8.06,-25.16) {DNA: \textcolor{fblue}{UAS + promoter}};
\draw[line width=0.9pt, {Bar[width=5pt]}-{Stealth[length=7pt,width=7pt]}] (5.02,-26.64) -- (4.23,-26.64);
\draw[line width=0.9pt, {Bar[width=5pt]}-{Stealth[length=7pt,width=7pt]}] (5.75,-26.64) -- (12.14,-26.64);
\node at (4.46,-26.18) {20 ± 3\%};
\node at (9.09,-26.30) {52 ± 3\%};
\node[rotate=45] at (5.84,-26.23) {28 ± 3\%};
\begin{axis}[mat, at={(4.19cm,-30.86cm)}, width=7.82cm, height=3.93cm,
  xmin=-6, xmax=36, ymin=0, ymax=0.15,
  xtick={-6,0,...,36}, xticklabels={},
  ytick={0,0.05,0.1,0.15}, yticklabels={0,0.05,0.1,0.15}]
\addplot[ybar interval, fill=fyellow, draw=black!80, line width=0.8pt] coordinates {(-6,0.0169) (-4.5,0.0228) (-3,0.0348) (-1.5,0)};
\addplot[ybar interval, fill=forange, draw=black!80, line width=0.8pt] coordinates {(-1.5,0.0929) (1.5,0)};
\addplot[ybar interval, fill=fpurple, draw=black!80, line width=0.8pt] coordinates {(1.5,0.0635) (3,0.0522) (4.5,0.0435) (6,0.0230) (7.5,0.0054) (9,0.0141) (10.5,0.0113) (12,0.0092) (18,0.0042) (24,0.0049) (30,0.0007) (36,0)};
\addplot[eb] coordinates {(-5.25,0.0169) +- (0,0.0072) (-3.75,0.0228) +- (0,0.0083) (-2.25,0.0348) +- (0,0.010) (0,0.0929) +- (0,0.0099) (2.25,0.0635) +- (0,0.013) (3.75,0.0522) +- (0,0.012) (5.25,0.0435) +- (0,0.011) (6.75,0.0230) +- (0,0.0082) (8.25,0.0054) +- (0,0.004) (9.75,0.0141) +- (0,0.0067) (11.25,0.0113) +- (0,0.0058) (15,0.0092) +- (0,0.0026) (21,0.0042) +- (0,0.002) (27,0.0049) +- (0,0.002) (33,0.0007) +- (0,0.001)};
\end{axis}
\begin{axis}[mat, at={(4.19cm,-32.30cm)}, width=7.82cm, height=1.32cm,
  xmin=-6, xmax=36, ymin=0, ymax=0.057,
  xtick={-6,0,...,36}, xticklabels={-6,0,6,12,18,24,30,36},
  ytick={0,0.05}, yticklabels={0,0.05}]
\addplot[ybar interval, fill=fgray, draw=black, line width=0.8pt] coordinates {(-6,0.0222) (-4.5,0.027) (-3,0.0378) (-1.5,0.0354) (1.5,0.043) (3,0.0376) (4.5,0.0197) (6,0.0203) (7.5,0.0203) (9,0.013) (10.5,0.014) (12,0.0089) (18,0.0054) (24,0.0041) (30,0.0024) (36,0)};
\end{axis}
\node[anchor=east] at (11.79,-27.37) {\textit{n} = 230};
\node[anchor=east] at (11.90,-31.40) {Scrambled data\quad\textit{n} = 2397};
\node[rotate=90] at (2.83,-29.67) {Probability density (s\textsuperscript{-1})};
\node at (8.09,-33.18) {\textit{t}\textsubscript{TFIIE}- \textit{t}\textsubscript{Pol II} (s)};

% ===================== G =====================
\node[font=\fsL] at (15.79,-24.23) {G};
\node at (21.11,-24.23) {TFIIF-TFIIE};
\node at (21.29,-24.85) {DNA: \textcolor{fblue}{UAS + promoter}};
\draw[line width=0.9pt, {Bar[width=5pt]}-{Stealth[length=7pt,width=7pt]}] (17.94,-26.42) -- (17.18,-26.42);
\draw[line width=0.9pt, {Bar[width=5pt]}-{Stealth[length=7pt,width=7pt]}] (18.68,-26.42) -- (25.06,-26.42);
\node at (17.41,-25.96) {19 ± 4\%};
\node at (22.03,-26.08) {51 ± 5\%};
\node[rotate=45] at (18.76,-25.99) {30 ± 4\%};
\begin{axis}[mat, at={(17.16cm,-30.73cm)}, width=7.88cm, height=3.92cm,
  xmin=-6, xmax=36, ymin=0, ymax=0.15,
  xtick={-6,0,...,36}, xticklabels={},
  ytick={0,0.05,0.1,0.15}, yticklabels={0,0.05,0.1,0.15}]
\addplot[ybar interval, fill=gyellow, draw=black!80, line width=0.8pt] coordinates {(-6,0.0059) (-4.5,0.0059) (-3,0.042) (-1.5,0)};
\addplot[ybar interval, fill=forange, draw=black!80, line width=0.8pt] coordinates {(-1.5,0.1016) (1.5,0)};
\addplot[ybar interval, fill=fpurple, draw=black!80, line width=0.8pt] coordinates {(1.5,0.0598) (3,0.0361) (4.5,0.0059) (6,0.0357) (7.5,0.0298) (9,0.018) (10.5,0.0059) (12,0.012) (15,0.0059) (18,0.0149) (21,0) (24,0.0031) (30,0.0014) (36,0)};
\addplot[eb] coordinates {(-5.25,0.0059) +- (0,0.006) (-3.75,0.0059) +- (0,0.006) (-2.25,0.042) +- (0,0.0155) (0,0.1016) +- (0,0.0144) (2.25,0.0598) +- (0,0.018) (3.75,0.0361) +- (0,0.014) (5.25,0.0059) +- (0,0.006) (6.75,0.0357) +- (0,0.014) (8.25,0.0298) +- (0,0.013) (9.75,0.018) +- (0,0.0098) (11.25,0.0059) +- (0,0.006) (13.5,0.012) +- (0,0.006) (16.5,0.0059) +- (0,0.0039) (19.5,0.0149) +- (0,0.0066) (27,0.0031) +- (0,0.002) (33,0.0014) +- (0,0.0012)};
\end{axis}
\begin{axis}[mat, at={(17.16cm,-32.20cm)}, width=7.88cm, height=1.32cm,
  xmin=-6, xmax=36, ymin=0, ymax=0.057,
  xtick={-6,0,...,36}, xticklabels={-6,0,6,12,18,24,30,36},
  ytick={0,0.05}, yticklabels={0,0.05}]
\addplot[ybar interval, fill=fgray, draw=black, line width=0.8pt] coordinates {(-6,0.0227) (-4.5,0.0308) (-3,0.0455) (-1.5,0.0468) (1.5,0.0468) (3,0.0289) (4.5,0.0174) (6,0.0193) (7.5,0.0139) (9,0.0086) (10.5,0.0145) (12,0.0072) (18,0.0032) (24,0.0043) (30,0.0008) (36,0)};
\end{axis}
\node[anchor=east] at (24.85,-27.21) {\textit{n} = 112};
\node[anchor=east] at (24.85,-31.34) {Scrambled data\quad\textit{n} = 1732};
\node[rotate=90] at (15.93,-29.60) {Probability density (s\textsuperscript{-1})};
\node at (21.00,-33.18) {\textit{t}\textsubscript{TFIIE}- \textit{t}\textsubscript{TFIIF} (s)};

\end{tikzpicture}
\end{document}
